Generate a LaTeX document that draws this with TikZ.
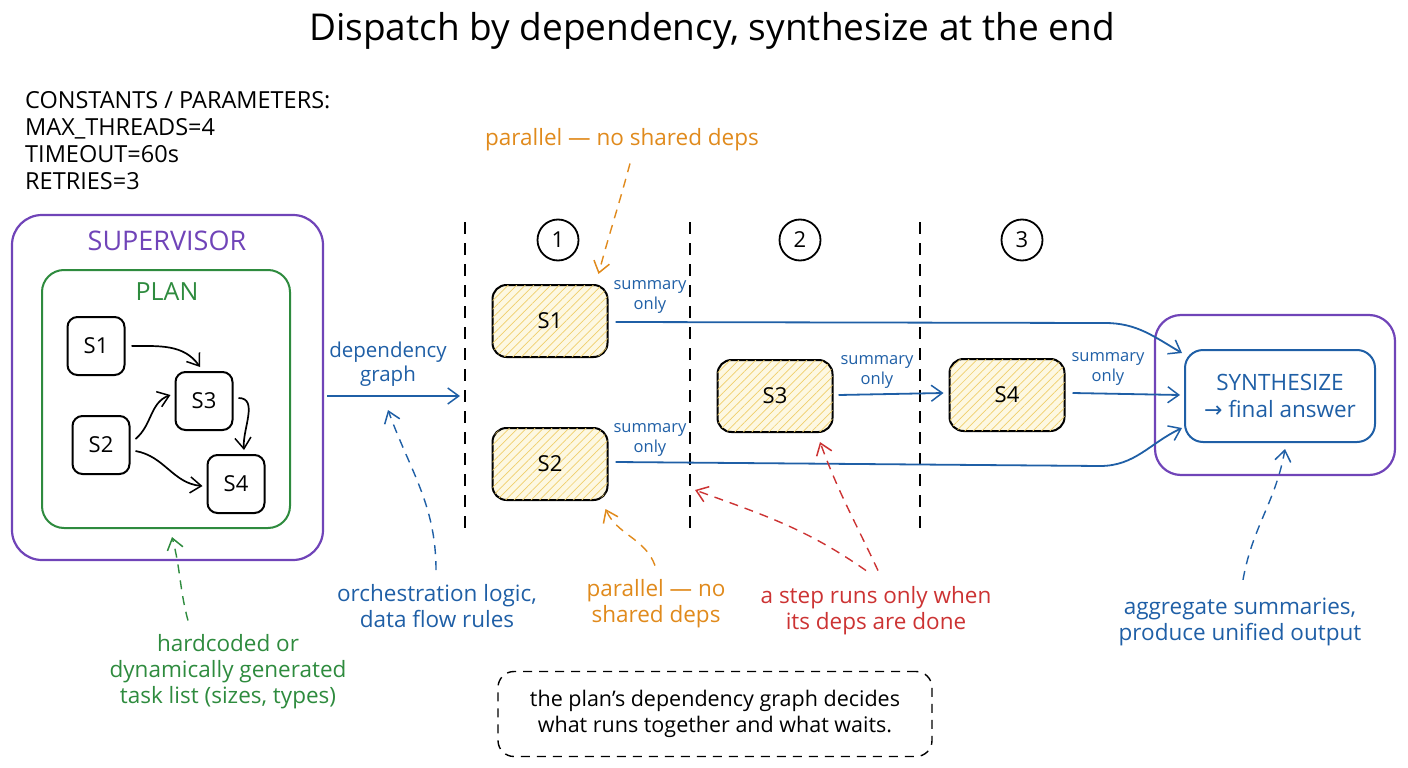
\documentclass[tikz,border=0pt]{standalone}
\usepackage{fontspec}
\setmainfont{Open Sans}
\usetikzlibrary{arrows.meta,patterns.meta}
\definecolor{cpurple}{HTML}{7044B8}
\definecolor{cgreen}{HTML}{2E8B3E}
\definecolor{cblue}{HTML}{1F5FA6}
\definecolor{corange}{HTML}{E08A1C}
\definecolor{cred}{HTML}{CC3333}
\definecolor{hatchbg}{HTML}{FDF8E2}
\definecolor{hatchln}{HTML}{F0CF6A}
\newcommand{\fsz}[2]{\fontsize{#1}{#2}\selectfont}
\begin{document}
\begin{tikzpicture}[x=1pt,y=-1pt,
  tip/.style={-{Straight Barb[length=11pt,width=16pt,line width=1.5pt]}},
  sbox/.style={draw=black,line width=2pt,rounded corners=10pt,minimum width=57pt,minimum height=58pt,inner sep=0pt,font=\fsz{22}{26}},
  stagebox/.style={draw=black,line width=2pt,rounded corners=14pt,minimum width=115pt,minimum height=72pt,inner sep=0pt,fill=hatchbg,font=\fsz{22}{26},
    postaction={pattern={Lines[angle=45,distance=6pt,line width=0.7pt]},pattern color=hatchln}},
  numc/.style={circle,draw=black,line width=1.8pt,minimum size=41pt,inner sep=0pt,font=\fsz{22}{26}},
  sumlbl/.style={text=cblue,font=\fsz{16.5}{20},align=center,inner sep=0pt},
  blk/.style={draw=black,line width=1.7pt,tip},
  barr/.style={draw=cblue,line width=1.8pt,tip},
  vdash/.style={draw=black,line width=1.5pt,dash pattern=on 12pt off 9pt},
  note/.style={font=\fsz{22.5}{26},align=center,inner sep=0pt},
  ndash/.style={line width=1.4pt,dash pattern=on 9pt off 7pt,tip}
]
\useasboundingbox (0,0) rectangle (1408,768);

% title
\node[font=\fsz{37}{44}] (title) at (712,31) {Dispatch by dependency, synthesize at the end};

% constants
\node[anchor=north west,align=left,font=\fsz{23.5}{27},inner sep=0pt] (consts) at (25,91)
  {CONSTANTS / PARAMETERS:\\MAX\_THREADS=4\\TIMEOUT=60s\\RETRIES=3};

% supervisor & plan
\node[draw=cpurple,line width=2.2pt,rounded corners=30pt,minimum width=311pt,minimum height=345pt] (sup) at (167.5,387.5) {};
\node[text=cpurple,font=\fsz{27}{30}] (suplbl) at (167,241) {SUPERVISOR};
\node[draw=cgreen,line width=2pt,rounded corners=22pt,minimum width=248pt,minimum height=258pt] (plan) at (166,399) {};
\node[text=cgreen,font=\fsz{25}{30}] (planlbl) at (167,292) {PLAN};

\node[sbox] (p1) at (96,346) {S1};
\node[sbox] (p3) at (204,401) {S3};
\node[sbox] (p2) at (101,445) {S2};
\node[sbox] (p4) at (236,484) {S4};

\draw[blk] ([xshift=6pt]p1.east) to[out=0,in=125] ([xshift=-4pt,yshift=4pt]p3.north);
\draw[blk] ([xshift=5pt,yshift=6pt]p2.east) to[out=40,in=200] ([xshift=-4pt,yshift=6pt]p3.west);
\draw[blk] ([xshift=5pt,yshift=-6pt]p2.east) to[out=-10,in=175] ([xshift=-4pt,yshift=-2pt]p4.west);
\draw[blk] ([xshift=5pt,yshift=3pt]p3.east) to[out=0,in=95] ([xshift=8pt,yshift=4pt]p4.north);

% dependency graph arrow
\coordinate (d1t) at (465,222); \coordinate (d1b) at (465,535);
\coordinate (d2t) at (690,222); \coordinate (d2b) at (690,535);
\coordinate (d3t) at (920,222); \coordinate (d3b) at (920,535);
\coordinate (gtip) at (460,396);
\draw[barr] ([xshift=3pt,yshift=-8.5pt]sup.east) -- (gtip);
\node[text=cblue,font=\fsz{20.5}{24},align=center,inner sep=0pt] (deplbl) at (388,364) {dependency\\graph};

% dashed separators
\draw[vdash] (d1t) -- (d1b);
\draw[vdash] (d2t) -- (d2b);
\draw[vdash] (d3t) -- (d3b);

% numbers
\node[numc] (c1) at (558,240) {1};
\node[numc] (c2) at (800,240) {2};
\node[numc] (c3) at (1022,240) {3};

% stage boxes
\node[stagebox] (st1) at (550,321) {S1};
\node[stagebox] (st2) at (550,464) {S2};
\node[stagebox] (st3) at (775,396) {S3};
\node[stagebox] (st4) at (1007,395) {S4};

% synthesize
\node[draw=cpurple,line width=2.2pt,rounded corners=26pt,minimum width=240pt,minimum height=160pt] (synout) at (1275,395) {};
\node[draw=cblue,line width=2pt,rounded corners=18pt,minimum width=190pt,minimum height=92pt,align=center,text=cblue,font=\fsz{22.5}{27}] (syn) at (1280,396) {SYNTHESIZE\\{\fontspec{DejaVu Sans}\fsz{22}{27}→} final answer};

% summary arrows
\coordinate (k1) at (1105,323);
\coordinate (k2) at (1100,466);
\draw[barr] ([xshift=7pt,yshift=-1pt]st1.east) -- (k1) to[out=0,in=150] ([xshift=-2pt,yshift=-4pt]syn.north west);
\draw[barr] ([xshift=7pt,yshift=2pt]st2.east) -- (k2) to[out=0,in=205] ([xshift=-2pt,yshift=15pt]syn.south west);
\draw[barr] ([xshift=5pt,yshift=1pt]st3.east) -- ([xshift=-5pt,yshift=2pt]st4.west);
\draw[barr] ([xshift=7pt,yshift=2pt]st4.east) -- ([xshift=-4pt,yshift=1pt]syn.west);

\node[sumlbl] (sum1) at (650,297) {summary\\only};
\node[sumlbl] (sum2) at (650,440) {summary\\only};
\node[sumlbl] (sum3) at (877,372) {summary\\only};
\node[sumlbl] (sum4) at (1108,369) {summary\\only};

% annotations
\node[note,text=corange] (otop) at (622,140) {parallel — no shared deps};
\draw[ndash,draw=corange] ([xshift=8pt,yshift=-12pt]otop.south) to[out=-105,in=75] ([xshift=-10pt,yshift=10pt]st1.north east);

\node[note,text=corange] (obot) at (656,604) {parallel — no\\shared deps};
\draw[ndash,draw=corange] ([xshift=-1pt,yshift=14pt]obot.north) to[out=110,in=-65] ([xshift=-3pt,yshift=-8pt]st2.south east);

\coordinate (gt) at (388,410);
\node[note,text=cblue] (orch) at (437,606) {orchestration logic,\\data flow rules};
\draw[ndash,draw=cblue] ([xshift=-1pt,yshift=14pt]orch.north) to[out=90,in=-70] (gt);

\node[note,text=cgreen] (hard) at (228,672) {hardcoded or\\dynamically generated\\task list (sizes, types)};
\draw[ndash,draw=cgreen] ([xshift=-40pt,yshift=14pt]hard.north) to[out=105,in=-75] ([xshift=6pt,yshift=-8pt]plan.south);

\coordinate (rt) at (695,490);
\node[note,text=cred] (red) at (876,611) {a step runs only when\\its deps are done};
\draw[ndash,draw=cred] ([xshift=-10pt,yshift=16pt]red.north) to[out=145,in=-20] (rt);
\draw[ndash,draw=cred] ([xshift=2pt,yshift=16pt]red.north) to[out=115,in=-70] ([xshift=45pt,yshift=-9pt]st3.south);

\node[note,text=cblue] (agg) at (1240,622) {aggregate summaries,\\produce unified output};
\draw[ndash,draw=cblue] ([xshift=3pt,yshift=18pt]agg.north) to[out=80,in=-100] ([xshift=5pt,yshift=-6pt]syn.south);

% bottom note
\node[draw=black,line width=1.4pt,dash pattern=on 9pt off 7pt,rounded corners=16pt,minimum width=434pt,minimum height=85pt,note,font=\fsz{21.5}{26}] (bnote) at (715,714) {the plan's dependency graph decides\\what runs together and what waits.};
\end{tikzpicture}
\end{document}
